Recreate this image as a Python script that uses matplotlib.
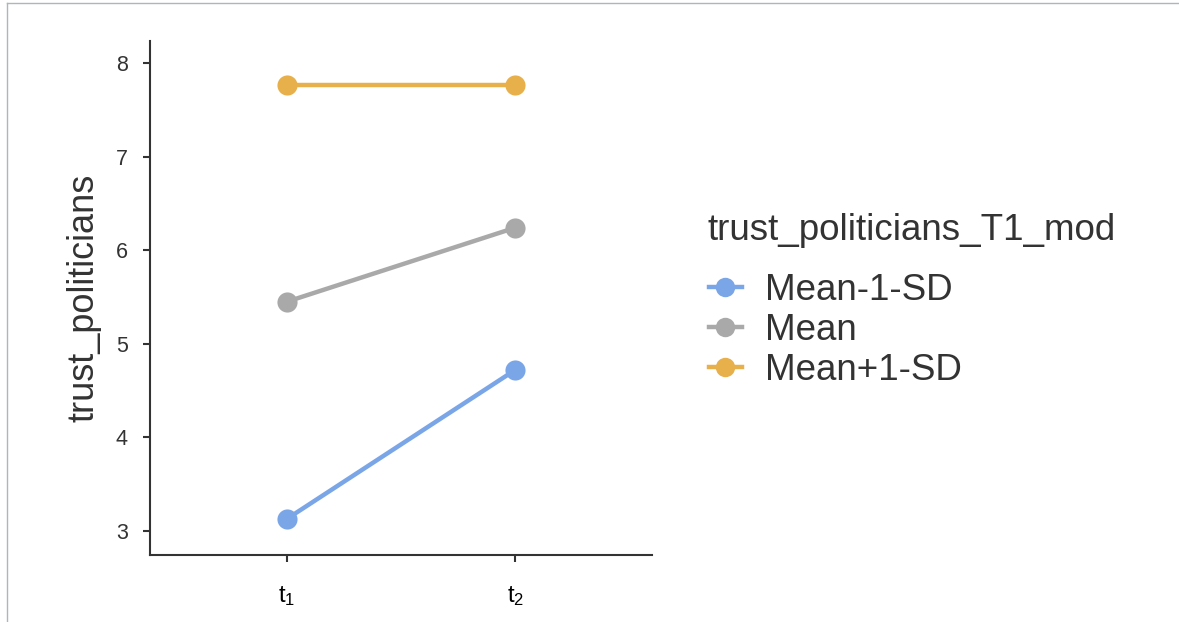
import matplotlib
matplotlib.use("Agg")
import matplotlib.pyplot as plt
from matplotlib.lines import Line2D

plt.rcParams['font.family'] = ['Liberation Sans', 'DejaVu Sans']
plt.rcParams['mathtext.default'] = 'regular'

# --- data ---
time_points = [1, 2]
time_labels = ["$t_1$", "$t_2$"]
groups = ["Mean-1-SD", "Mean", "Mean+1-SD"]
trust_low = [3.13, 4.72]
trust_mean = [5.45, 6.24]
trust_high = [7.76, 7.76]
colors = ["#7aa6e8", "#a9a9a9", "#e8b04a"]

W, H = 1179, 622
fig = plt.figure(figsize=(W / 100, H / 100), dpi=100)
ax = fig.add_axes([150 / W, 1 - 555 / H, (652 - 150) / W, (555 - 41) / H])

for vals, col, lab in zip([trust_low, trust_mean, trust_high], colors, groups):
    ax.plot(time_points, vals, color=col, lw=3.2, marker="o", ms=14.5,
            markeredgewidth=0, label=lab, solid_capstyle="butt")

ax.set_xlim(0.4, 2.6)
ax.set_ylim(2.744, 8.235)
ax.set_xticks(time_points)
ax.set_xticklabels(time_labels)
ax.set_yticks([3, 4, 5, 6, 7, 8])

for s in ["top", "right"]:
    ax.spines[s].set_visible(False)
for s in ["left", "bottom"]:
    ax.spines[s].set_color("#333333")
    ax.spines[s].set_linewidth(1.5)
ax.tick_params(axis="both", colors="#333333", length=5, width=1.5,
               labelsize=15.5, labelcolor="#333333")
ax.tick_params(axis="y", pad=11)
ax.tick_params(axis="x", pad=16, labelsize=17, labelcolor="black")
ax.set_ylabel("trust_politicians", fontsize=26, color="#333333", labelpad=10)

# legend: title drawn separately so the gap below it matches
fig.text(707 / W, 1 - 230 / H, "trust_politicians_T1_mod", fontsize=26.5,
         color="#333333", ha="left", va="center")
handles = [Line2D([0], [0], color=c, lw=3.2, marker="o", ms=14, markeredgewidth=0)
           for c in colors]
leg = fig.legend(handles, groups, loc="upper left",
                 bbox_to_anchor=(683 / W, 1 - 247 / H),
                 frameon=False, fontsize=26.5,
                 handlelength=0.9, handletextpad=0.62, labelspacing=0.14,
                 borderpad=0.2)
for t in leg.get_texts():
    t.set_color("#333333")

# thin border along top and left edge like the screenshot
fig.add_artist(Line2D([7 / W, 7 / W], [0, 1 - 3 / H],
                      transform=fig.transFigure, color="#b0b4bc", lw=1))
fig.add_artist(Line2D([7 / W, 1], [1 - 3 / H, 1 - 3 / H],
                      transform=fig.transFigure, color="#b0b4bc", lw=1))

fig.savefig("out.png", dpi=100)
